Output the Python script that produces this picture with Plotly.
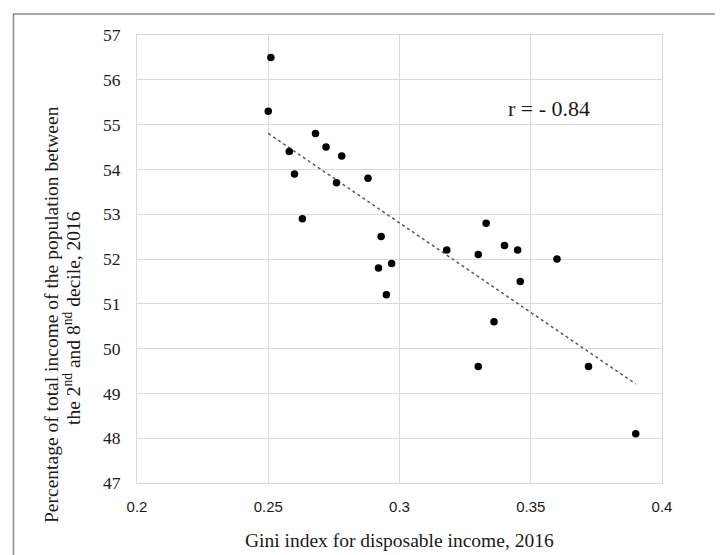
import numpy as np
import plotly.graph_objects as go

gini = [0.251, 0.250, 0.268, 0.272, 0.278, 0.258, 0.260, 0.276, 0.288, 0.263,
        0.293, 0.292, 0.297, 0.295, 0.318, 0.330, 0.333, 0.340, 0.345, 0.346,
        0.360, 0.336, 0.330, 0.372, 0.390]
share = [56.5, 55.3, 54.8, 54.5, 54.3, 54.4, 53.9, 53.7, 53.8, 52.9,
         52.5, 51.8, 51.9, 51.2, 52.2, 52.1, 52.8, 52.3, 52.2, 51.5,
         52.0, 50.6, 49.6, 49.6, 48.1]
x_ticks = [0.2, 0.25, 0.3, 0.35, 0.4]
x_tick_text = ["0.2", "0.25", "0.3", "0.35", "0.4"]
y_ticks = [47, 48, 49, 50, 51, 52, 53, 54, 55, 56, 57]
r_label = "r = - 0.84"
x_title = "Gini index for disposable income, 2016"
y_title_1 = "Percentage of total income of the population between"
y_title_2 = "the 2<sup>nd</sup> and 8<sup>nd</sup> decile, 2016"

W, H = 723, 555
L, R, T, B = 129, 69, 27, 80
pw, ph = W - L - R, H - T - B

def px2paper_x(px):
    return (px - L) / pw

def px2paper_y(py):
    return (H - B - py) / ph

slope, intercept = np.polyfit(gini, share, 1)
tx = np.array([min(gini), max(gini)])
ty = slope * tx + intercept

serif = "Liberation Serif, Times New Roman, serif"
sans = "Liberation Sans, Arial, sans-serif"
txt = "#1a1a1a"

fig = go.Figure()
fig.add_trace(go.Scatter(x=tx, y=ty, mode="lines",
                         line=dict(color="#595959", width=1.5, dash="dot"),
                         hoverinfo="skip", showlegend=False))
fig.add_trace(go.Scatter(x=gini, y=share, mode="markers",
                         marker=dict(color="black", size=7.5),
                         showlegend=False))

grid = "#d9d9d9"
fig.update_xaxes(range=[0.2, 0.4], tickvals=x_ticks, ticktext=x_tick_text,
                 showgrid=True, gridcolor=grid, gridwidth=1,
                 showline=True, linecolor=grid, linewidth=1, mirror=True,
                 zeroline=False, ticks="outside", ticklen=10, tickcolor="rgba(0,0,0,0)",
                 tickfont=dict(family=sans, size=15, color=txt))
fig.update_yaxes(range=[47, 57], tickvals=y_ticks,
                 showgrid=True, gridcolor=grid, gridwidth=1,
                 showline=True, linecolor=grid, linewidth=1, mirror=True,
                 zeroline=False, ticks="outside", ticklen=12, tickcolor="rgba(0,0,0,0)",
                 tickfont=dict(family=serif, size=17.5, color=txt))

fig.add_annotation(x=0.3569, y=55.36, xref="x", yref="y", text=r_label,
                   showarrow=False, font=dict(family=serif, size=22, color=txt))
fig.add_annotation(x=0.5, y=px2paper_y(532), xref="paper", yref="paper",
                   text=x_title, showarrow=False, xanchor="center", yanchor="middle",
                   font=dict(family=serif, size=19.5, color=txt))
fig.add_annotation(x=px2paper_x(43), y=px2paper_y(307), xref="paper", yref="paper",
                   text=y_title_1, textangle=-90, showarrow=False,
                   xanchor="center", yanchor="middle",
                   font=dict(family=serif, size=19.5, color=txt))
fig.add_annotation(x=px2paper_x(64), y=px2paper_y(310), xref="paper", yref="paper",
                   text=y_title_2, textangle=-90, showarrow=False,
                   xanchor="center", yanchor="middle",
                   font=dict(family=serif, size=19.5, color=txt))

fig.add_shape(type="rect", xref="paper", yref="paper",
              x0=px2paper_x(5.5), x1=px2paper_x(760),
              y0=px2paper_y(600), y1=px2paper_y(6),
              line=dict(color="#8c8c8c", width=1.5), layer="below")

fig.update_layout(width=W, height=H, margin=dict(l=L, r=R, t=T, b=B),
                  paper_bgcolor="white", plot_bgcolor="white")

fig.write_html("out.html")
